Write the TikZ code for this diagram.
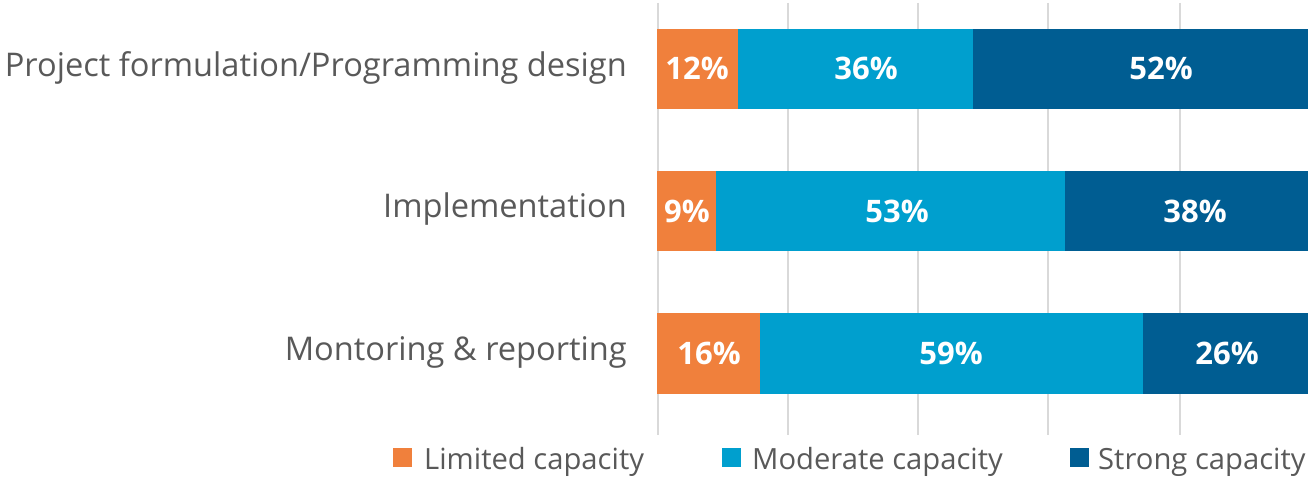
\documentclass[tikz,border=0pt]{standalone}
\usepackage{fontspec}
\setmainfont{Open Sans}
\definecolor{limc}{HTML}{F0803C}
\definecolor{modc}{HTML}{009FCE}
\definecolor{strc}{HTML}{005D92}
\definecolor{gridc}{HTML}{D9D9D9}
\definecolor{txtc}{HTML}{595959}
\begin{document}
\begin{tikzpicture}[x=1bp,y=-1bp,
  gridline/.style={draw=gridc,line width=1.5bp},
  catlabel/.style={anchor=base east,inner sep=0pt,text=txtc,font=\fontsize{32.6bp}{36bp}\selectfont},
  pct/.style={anchor=center,inner sep=0pt,text=white,font=\bfseries\fontsize{31bp}{34bp}\selectfont},
  legtext/.style={anchor=base west,inner sep=0pt,text=txtc,font=\fontsize{29.2bp}{32bp}\selectfont},
  legbox/.style={minimum size=19bp,inner sep=0pt,anchor=north west}]
\useasboundingbox (0,0) rectangle (1308,478);
% gridlines
\foreach \gx in {658,788,918,1048,1180}{
  \draw[gridline] (\gx,3) -- (\gx,435);
}
% bars
\fill[limc] (657,29) rectangle (738,109);
\fill[modc] (738,29) rectangle (973,109);
\fill[strc] (973,29) rectangle (1308,109);
\fill[limc] (657,171) rectangle (716,251);
\fill[modc] (716,171) rectangle (1065,251);
\fill[strc] (1065,171) rectangle (1308,251);
\fill[limc] (657,313) rectangle (760,394);
\fill[modc] (760,313) rectangle (1143,394);
\fill[strc] (1143,313) rectangle (1308,394);
% category labels
\node[catlabel] (c1) at (627,77) {Project formulation/Programming design};
\node[catlabel] (c2) at (627,218) {Implementation};
\node[catlabel] (c3) at (627,360) {Montoring \& reporting};
% percent labels
\node[pct] (p11) at (697,68) {12\%};
\node[pct] (p12) at (866,68) {36\%};
\node[pct] (p13) at (1161,68) {52\%};
\node[pct] (p21) at (687,211) {9\%};
\node[pct] (p22) at (897,211) {53\%};
\node[pct] (p23) at (1195,211) {38\%};
\node[pct] (p31) at (709,353) {16\%};
\node[pct] (p32) at (951,353) {59\%};
\node[pct] (p33) at (1227,353) {26\%};
% legend
\node[legbox,fill=limc] (l1) at (393,448) {};
\node[legtext] (t1) at (424,469) {Limited capacity};
\node[legbox,fill=modc] (l2) at (722,448) {};
\node[legtext] (t2) at (752,469) {Moderate capacity};
\node[legbox,fill=strc] (l3) at (1070,448) {};
\node[legtext] (t3) at (1098,469) {Strong capacity};
\end{tikzpicture}
\end{document}
